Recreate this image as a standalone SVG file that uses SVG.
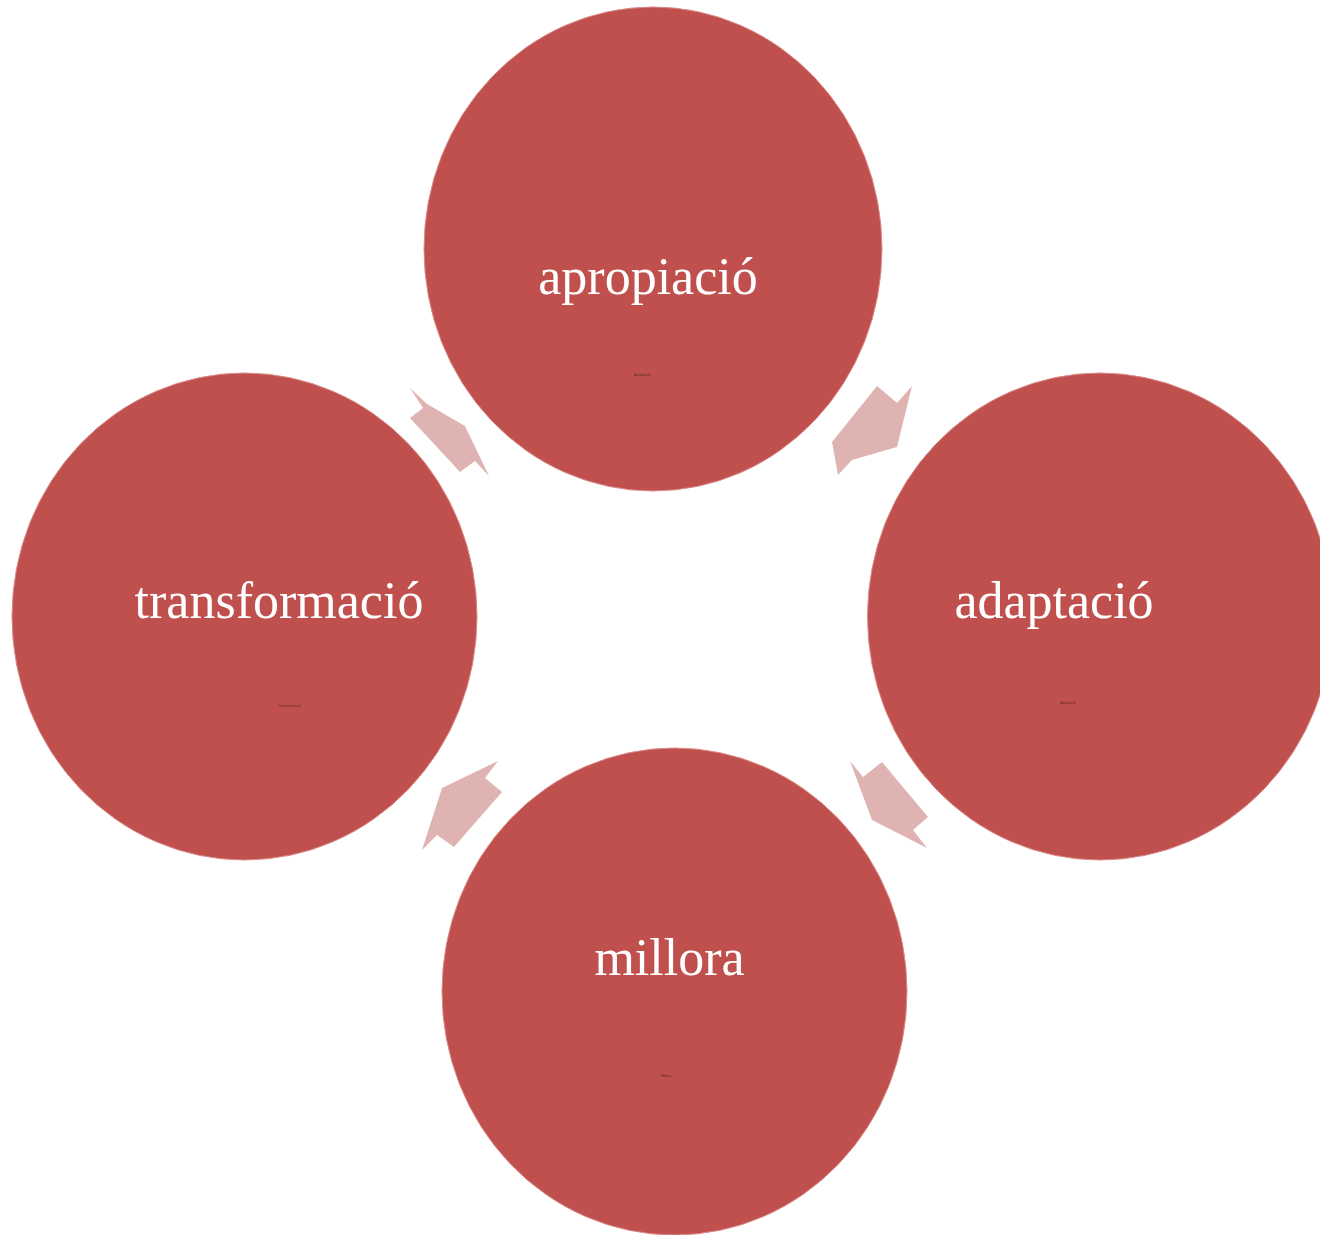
<svg xmlns="http://www.w3.org/2000/svg" width="1320" height="1235" viewBox="0 0 1320 1235">
<style>
.node{fill:#c0504d;stroke:#d98a88;stroke-width:1}
.lbl{font-family:"Liberation Serif","Times New Roman",serif;font-size:52px;fill:#ffffff;text-anchor:middle}
.small{font-family:"Liberation Sans",Arial,sans-serif;font-size:3.5px;fill:#5a2a28;text-anchor:middle}
.arr{fill:#dfb3b2}
</style>
<rect width="1320" height="1235" fill="#ffffff"/>
<g id="connectors">
<polygon class="arr" points="410,388 427,404 465,426 489,476 475,461 460,472 410,418 423,408"/>
<polygon class="arr" points="877,386 897,403 912,386 897,447 852,460 838,475 832,442"/>
<polygon class="arr" points="850,761 863,777 882,762 928,817 913,830 927,848 872,820"/>
<polygon class="arr" points="498,761 485,778 502,792 454,847 437,835 422,850 442,788"/>
</g>
<g id="node-apropiacio">
<ellipse class="node" cx="653" cy="249" rx="229" ry="242"/>
<text class="lbl" x="648" y="294">apropiació</text>
<text class="small" x="642" y="376">Apropiació</text>
</g>
<g id="node-adaptacio">
<ellipse class="node" cx="1100" cy="616.5" rx="232.5" ry="243.5"/>
<text class="lbl" x="1054" y="618">adaptació</text>
<text class="small" x="1068" y="704">Adaptació</text>
</g>
<g id="node-millora">
<ellipse class="node" cx="674.5" cy="991.5" rx="232.5" ry="243.5"/>
<text class="lbl" x="669.5" y="975">millora</text>
<text class="small" x="666" y="1077">Millora</text>
</g>
<g id="node-transformacio">
<ellipse class="node" cx="244.5" cy="616.5" rx="232.5" ry="243.5"/>
<text class="lbl" x="279" y="618">transformació</text>
<text class="small" x="289" y="707">Transformació</text>
</g>
</svg>
